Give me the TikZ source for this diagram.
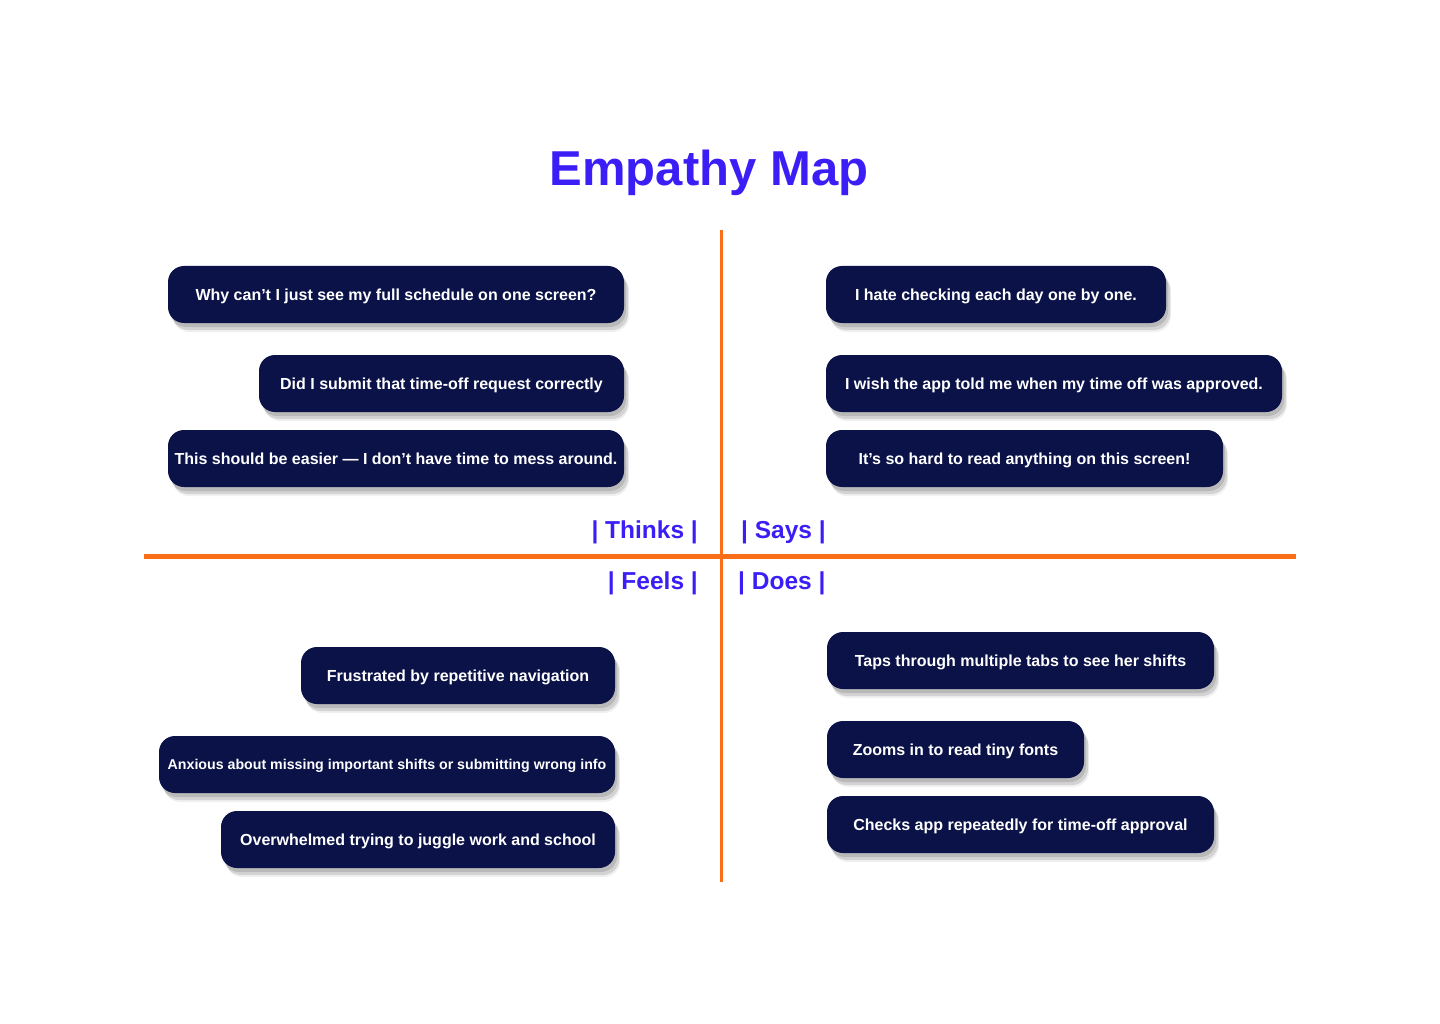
\documentclass[tikz,border=0pt]{standalone}
\usepackage{fontspec}
\setmainfont{Liberation Sans}
\usetikzlibrary{shadows}
\definecolor{navy}{RGB}{10,18,72}
\definecolor{accent}{RGB}{249,110,22}
\definecolor{violet}{RGB}{58,30,245}
\begin{document}
\begin{tikzpicture}[x=1pt,y=-1pt,
  card/.style={fill=navy, rounded corners=16pt, inner sep=0pt, text=white,
    font=\bfseries\fontsize{16}{19}\selectfont, text height=11.5pt, text depth=0pt,
    drop shadow={shadow xshift=2pt, shadow yshift=-4pt, fill=black, opacity=0.12},
    drop shadow={shadow xshift=4pt, shadow yshift=-7pt, fill=black, opacity=0.12},
    drop shadow={shadow xshift=5pt, shadow yshift=-9pt, fill=black, opacity=0.06},
    minimum height=57pt},
  quad/.style={text=violet, font=\bfseries\fontsize{24.5}{29}\selectfont, inner sep=0pt},
  axis/.style={draw=accent}]
\useasboundingbox (0,0) rectangle (1440,1024);
\node[text=violet, font=\bfseries\fontsize{49}{58}\selectfont] (title) at (709,173) {Empathy Map};
\coordinate (vtop) at (721,230);
\coordinate (vbot) at (721,882);
\coordinate (hl) at (144,556);
\coordinate (hr) at (1296,556);
\draw[axis, line width=3pt] (vtop) -- (vbot);
\draw[axis, line width=5pt] (hl) -- (hr);
\node[quad, anchor=east] (thinks) at (698,532) {| Thinks |};
\node[quad, anchor=west] (says) at (741,532) {| Says |};
\node[quad, anchor=east] (feels) at (698,583) {| Feels |};
\node[quad, anchor=west] (does) at (738,583) {| Does |};
% Thinks
\node[card, minimum width=456pt] (t1) at (396,294.5) {Why can’t I just see my full schedule on one screen?};
\node[card, minimum width=365pt] (t2) at (441.5,383.5) {Did I submit that time-off request correctly};
\node[card, minimum width=456pt] (t3) at (396,458.5) {This should be easier — I don’t have time to mess around.};
% Says
\node[card, minimum width=340pt] (s1) at (996,294.5) {I hate checking each day one by one.};
\node[card, minimum width=456pt] (s2) at (1054,383.5) {I wish the app told me when my time off was approved.};
\node[card, minimum width=397pt] (s3) at (1024.5,458.5) {It’s so hard to read anything on this screen!};
% Feels
\node[card, minimum width=314pt] (f1) at (458,675.5) {Frustrated by repetitive navigation};
\node[card, minimum width=456pt, font=\bfseries\fontsize{14.2}{17}\selectfont, text height=10.2pt] (f2) at (387,764.5) {Anxious about missing important shifts or submitting wrong info};
\node[card, minimum width=394pt] (f3) at (418,839.5) {Overwhelmed trying to juggle work and school};
% Does
\node[card, minimum width=387pt] (d1) at (1020.5,660.5) {Taps through multiple tabs to see her shifts};
\node[card, minimum width=257pt] (d2) at (955.5,749.5) {Zooms in to read tiny fonts};
\node[card, minimum width=387pt] (d3) at (1020.5,824.5) {Checks app repeatedly for time-off approval};
\end{tikzpicture}
\end{document}
